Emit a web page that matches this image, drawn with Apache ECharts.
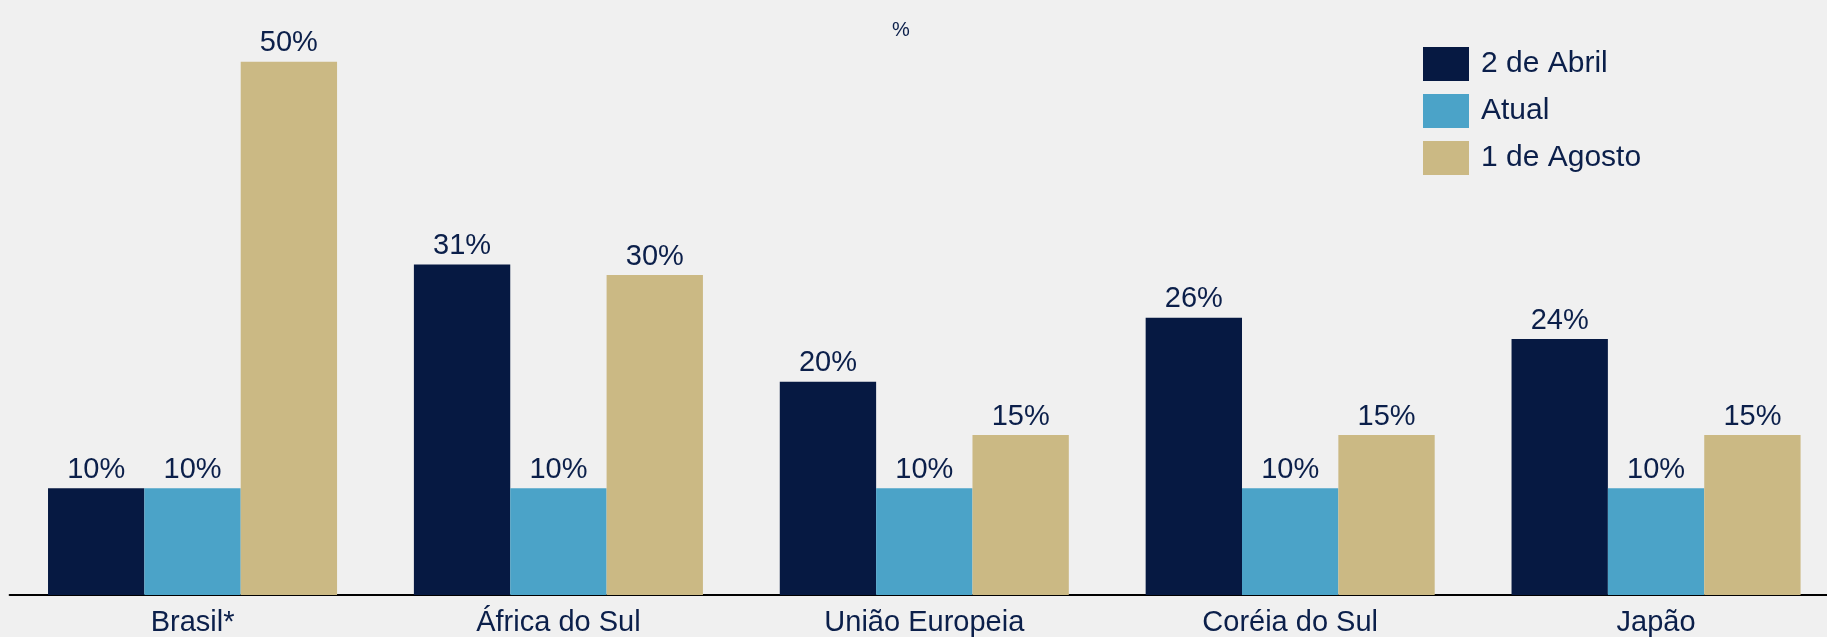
<!DOCTYPE html>
<html><head><meta charset="utf-8">
<script src="https://cdn.jsdelivr.net/npm/echarts@6/dist/echarts.min.js"></script>
<style>html,body{margin:0;padding:0;background:#f0f0f0;overflow:hidden}#c{width:1839px;height:637px}</style>
</head><body><div id="c"></div>
<script>
const categories = ['Brasil*', 'África do Sul', 'União Europeia', 'Coréia do Sul', 'Japão'];
const seriesNames = ['2 de Abril', 'Atual', '1 de Agosto'];
const abril = [10, 31, 20, 26, 24];
const atual = [10, 10, 10, 10, 10];
const agosto = [50, 30, 15, 15, 15];
const colors = ['#061942', '#4ba3c8', '#cbb984'];
const textColor = '#0b1f4a';
const font = '"Liberation Sans", Arial, sans-serif';

const chart = echarts.init(document.getElementById('c'));
const mk = (name, data, color) => ({
  name, type: 'bar', data, barGap: 0, barCategoryGap: '21%',
  itemStyle: { color },
  label: { show: true, position: 'top', distance: 4, formatter: '{c}%', color: textColor, fontSize: 29, fontFamily: font }
});
chart.setOption({
  backgroundColor: '#f0f0f0',
  animation: false,
  title: { text: '%', left: 887, top: 15, textStyle: { color: textColor, fontSize: 20, fontWeight: 'normal', fontFamily: font } },
  legend: {
    orient: 'vertical', left: 1418, top: 42, itemWidth: 46, itemHeight: 34, itemGap: 13,
    icon: 'rect',
    textStyle: { color: textColor, fontSize: 30, fontFamily: font, padding: [0, 0, 0, 7] },
    data: seriesNames
  },
  grid: { left: 9.6, right: 0, top: 61.8, bottom: 41.5 },
  xAxis: {
    type: 'category', data: categories,
    axisLine: { lineStyle: { color: '#000', width: 2 } },
    axisTick: { show: false },
    axisLabel: { color: textColor, fontSize: 29, fontFamily: font, margin: 13 }
  },
  yAxis: { type: 'value', min: 0, max: 50, show: false, splitLine: { show: false } },
  series: [mk(seriesNames[0], abril, colors[0]), mk(seriesNames[1], atual, colors[1]), mk(seriesNames[2], agosto, colors[2])]
});
</script></body></html>
